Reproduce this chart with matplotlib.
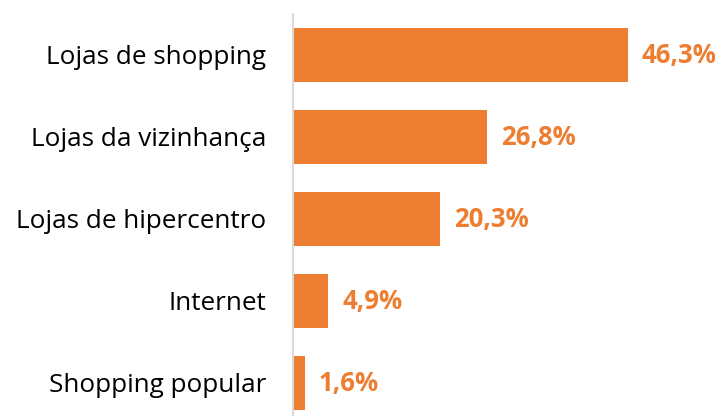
import matplotlib
matplotlib.use("Agg")
import matplotlib.pyplot as plt

# data
categories = ["Lojas de shopping", "Lojas da vizinhança", "Lojas de hipercentro",
              "Internet", "Shopping popular"]
values = [46.3, 26.8, 20.3, 4.9, 1.6]
labels = ["46,3%", "26,8%", "20,3%", "4,9%", "1,6%"]

plt.rcParams['font.family'] = ['Open Sans', 'DejaVu Sans']

fig = plt.figure(figsize=(7.2, 4.16), dpi=100)
ax = fig.add_axes([293 / 720, -8 / 416, 427 / 720, 410 / 416])

ypos = list(range(len(categories)))
ax.barh(ypos, values, height=0.66, color="#ED7D31")
ax.set_ylim(len(categories) - 0.5, -0.5)
ax.set_xlim(0, 427 / 7.235)

for y, v, lab in zip(ypos, values, labels):
    ax.text(v + 1.9, y, lab, va="center", ha="left", color="#ED7D31",
            fontsize=18.5, fontweight="bold")

ax.set_yticks(ypos)
ax.set_yticklabels(categories, fontsize=18.8)
ax.tick_params(axis="y", length=0, pad=19.5)
ax.set_xticks([])
for s in ["top", "right", "bottom"]:
    ax.spines[s].set_visible(False)
ax.spines["left"].set_color("#D9D9D9")
ax.spines["left"].set_linewidth(1.5)

fig.savefig("out.png", dpi=100)
